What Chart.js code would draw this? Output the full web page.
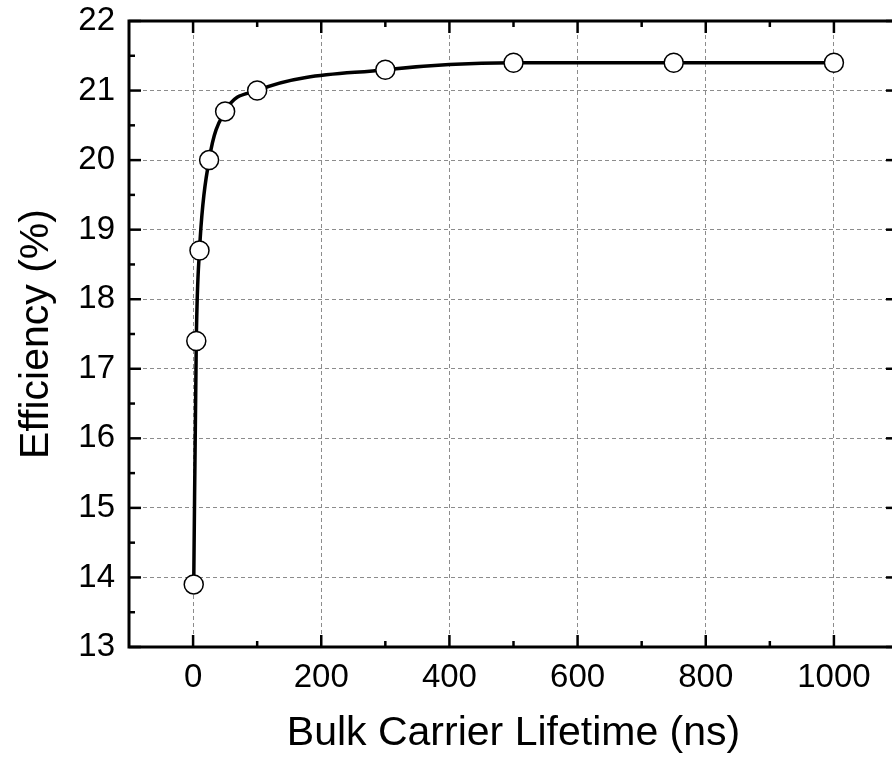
<!DOCTYPE html>
<html>
<head>
<meta charset="utf-8">
<script src="https://cdn.jsdelivr.net/npm/chart.js@4"></script>
<style>
  html, body { margin: 0; padding: 0; background: #fff; overflow: hidden; }
  #wrap { width: 892px; height: 758px; overflow: hidden; }
</style>
</head>
<body>
<div id="wrap"><canvas id="effChart" width="910" height="758"></canvas></div>
<script>
// bulk lifetime (ns) vs cell efficiency (%)
const lifetime = [1, 5, 10, 25, 50, 100, 300, 500, 750, 1000];
const efficiency = [13.9, 17.4, 18.7, 20.0, 20.7, 21.0, 21.3, 21.4, 21.4, 21.4];

const xMajorTicks = [0, 200, 400, 600, 800, 1000];
const xMinorTicks = [100, 300, 500, 700, 900, 1100];
const yMajorTicks = [13, 14, 15, 16, 17, 18, 19, 20, 21, 22];
const yMinorTicks = [13.5, 14.5, 15.5, 16.5, 17.5, 18.5, 19.5, 20.5, 21.5];

const fontFamily = "'Liberation Sans', Arial, sans-serif";

// origin-style frame with inward ticks on all four sides
const frameTicks = {
    id: "frameTicks",
    afterDraw(chart) {
        const ctx = chart.ctx;
        const a = chart.chartArea;
        const xs = chart.scales.x;
        const ys = chart.scales.y;
        ctx.save();
        ctx.strokeStyle = "#000";
        ctx.lineWidth = 2.5;
        const line = (x1, y1, x2, y2) => {
            ctx.beginPath();
            ctx.moveTo(x1, y1);
            ctx.lineTo(x2, y2);
            ctx.stroke();
        };
        xMajorTicks.forEach(v => {
            const p = xs.getPixelForValue(v);
            line(p, a.bottom, p, a.bottom - 12);
            line(p, a.top, p, a.top + 12);
        });
        xMinorTicks.forEach(v => {
            const p = xs.getPixelForValue(v);
            line(p, a.bottom, p, a.bottom - 6);
            line(p, a.top, p, a.top + 6);
        });
        yMajorTicks.forEach(v => {
            const p = ys.getPixelForValue(v);
            line(a.left, p, a.left + 12, p);
            line(a.right, p, a.right - 12, p);
        });
        yMinorTicks.forEach(v => {
            const p = ys.getPixelForValue(v);
            line(a.left, p, a.left + 6, p);
            line(a.right, p, a.right - 6, p);
        });
        ctx.lineWidth = 3;
        ctx.strokeRect(a.left, a.top, a.right - a.left, a.bottom - a.top);
        ctx.restore();
    }
};

new Chart(document.getElementById("effChart"), {
    type: "line",
    data: {
        datasets: [{
            data: lifetime.map((t, i) => ({ x: t, y: efficiency[i] })),
            borderColor: "#000",
            borderWidth: 3.5,
            cubicInterpolationMode: "monotone",
            pointRadius: 9.5,
            pointBorderWidth: 1.5,
            pointBackgroundColor: "#fff",
            pointBorderColor: "#000"
        }]
    },
    options: {
        responsive: false,
        animation: false,
        layout: { padding: { left: 0, top: 21, right: 12, bottom: 0 } },
        plugins: {
            legend: { display: false },
            tooltip: { enabled: false }
        },
        scales: {
            x: {
                type: "linear",
                min: -100,
                max: 1100,
                afterBuildTicks: s => { s.ticks = xMajorTicks.map(v => ({ value: v })); },
                afterFit: s => { s.height = 111; s.paddingLeft = 0; s.paddingRight = 0; },
                grid: { color: "#8c8c8c", lineWidth: 1, drawTicks: false },
                border: { display: false, dash: [4, 3] },
                ticks: {
                    padding: 11,
                    color: "#000",
                    maxRotation: 0,
                    callback: v => String(v),
                    font: { family: fontFamily, size: 33 }
                },
                title: {
                    display: true,
                    text: "Bulk Carrier Lifetime (ns)",
                    color: "#000",
                    padding: { top: 0, bottom: 0 },
                    font: { family: fontFamily, size: 41, lineHeight: 1.2 }
                }
            },
            y: {
                min: 13,
                max: 22,
                afterBuildTicks: s => { s.ticks = yMajorTicks.map(v => ({ value: v })); },
                afterFit: s => { s.width = 129; s.paddingTop = 0; s.paddingBottom = 0; },
                grid: { color: "#8c8c8c", lineWidth: 1, drawTicks: false },
                border: { display: false, dash: [4, 3] },
                ticks: {
                    padding: 14,
                    color: "#000",
                    callback: v => String(v),
                    font: { family: fontFamily, size: 33 }
                },
                title: {
                    display: true,
                    text: "Efficiency (%)",
                    color: "#000",
                    padding: { top: 12, bottom: 0 },
                    font: { family: fontFamily, size: 41, lineHeight: 1.2 }
                }
            }
        }
    },
    plugins: [frameTicks]
});
</script>
</body>
</html>
